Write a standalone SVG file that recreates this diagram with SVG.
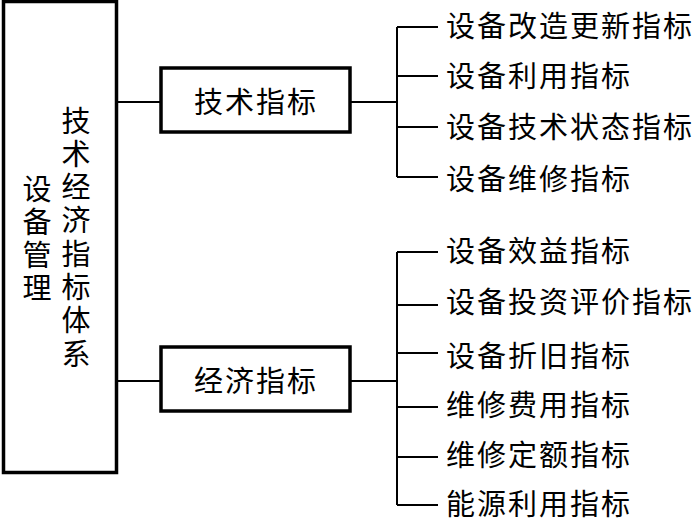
<svg xmlns="http://www.w3.org/2000/svg" width="694" height="522" viewBox="0 0 694 522">
<style>
.box{fill:#fff;stroke:#000;stroke-width:3.5}
.ln{fill:none;stroke:#000;stroke-width:2}
text{font-family:"Noto Sans CJK SC","Noto Sans CJK JP",sans-serif;fill:#000}
.lbl{font-size:29px;letter-spacing:2px;dominant-baseline:central}
.vt{font-size:29px;writing-mode:vertical-rl;letter-spacing:4.3px}
.bt{font-size:29px;letter-spacing:2px;text-anchor:middle;dominant-baseline:central}
</style>
<rect width="694" height="522" fill="#fff"/>
<g id="connectors">
<path class="ln" d="M117,102 H161 M350,102 H397 M117,381 H161 M350,381 H397"/>
<path class="ln" d="M397,27 V177 M397,27 H438 M397,76 H438 M397,127 H438 M397,177 H438"/>
<path class="ln" d="M397,252 V505 M397,252 H438 M397,305 H438 M397,353 H438 M397,407 H438 M397,457 H438 M397,505 H438"/>
</g>
<g id="root">
<rect class="box" x="3.5" y="1.5" width="113" height="471" stroke-width="3"/>
<text class="vt" x="37" y="174">设备管理</text>
<text class="vt" x="76" y="106">技术经济指标体系</text>
</g>
<g id="tech">
<rect class="box" x="161" y="68" width="189" height="64"/>
<text class="bt" x="256" y="100">技术指标</text>
</g>
<g id="econ">
<rect class="box" x="161" y="347" width="189" height="64"/>
<text class="bt" x="256" y="379">经济指标</text>
</g>
<g id="t1"><text class="lbl" x="446" y="24">设备改造更新指标</text></g>
<g id="t2"><text class="lbl" x="446" y="74">设备利用指标</text></g>
<g id="t3"><text class="lbl" x="446" y="125">设备技术状态指标</text></g>
<g id="t4"><text class="lbl" x="446" y="177">设备维修指标</text></g>
<g id="e1"><text class="lbl" x="446" y="249">设备效益指标</text></g>
<g id="e2"><text class="lbl" x="446" y="300">设备投资评价指标</text></g>
<g id="e3"><text class="lbl" x="446" y="354">设备折旧指标</text></g>
<g id="e4"><text class="lbl" x="446" y="403">维修费用指标</text></g>
<g id="e5"><text class="lbl" x="446" y="453">维修定额指标</text></g>
<g id="e6"><text class="lbl" x="446" y="502">能源利用指标</text></g>
</svg>
